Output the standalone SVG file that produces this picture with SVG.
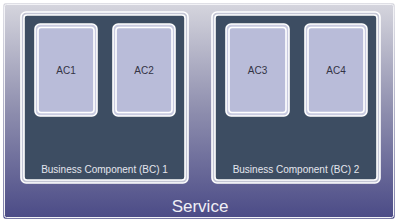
<svg xmlns="http://www.w3.org/2000/svg" width="400" height="224" viewBox="0 0 400 224">
<defs>
<linearGradient id="svcGrad" x1="0" y1="0" x2="0" y2="1">
<stop offset="0" stop-color="#d6d6de"/>
<stop offset="0.5" stop-color="#8e8eae"/>
<stop offset="1" stop-color="#4a4a86"/>
</linearGradient>
</defs>
<style>
.outer{fill:none;stroke:#ffffff;stroke-width:1.6}
.svcin{fill:none;stroke:#f2f2f6;stroke-width:1}
.bcfill{fill:#3d4d62;stroke:#ffffff;stroke-width:1.6}
.acfill{fill:#b9bcd9;stroke:#ffffff;stroke-width:1.6}
.acgap{fill:#c9cbe0;stroke:#ffffff;stroke-width:1.6}
.bcgap{fill:#c3c5d4;stroke:#ffffff;stroke-width:1.6}
.ac{font-family:"Liberation Sans",Arial,sans-serif;font-size:10px;fill:#333344;text-anchor:middle}
.bc{font-family:"Liberation Sans",Arial,sans-serif;font-size:10px;fill:#e4e6ee;text-anchor:middle}
.svc{font-family:"Liberation Sans",Arial,sans-serif;font-size:17px;fill:#f0f0f6;text-anchor:middle}
</style>
<rect width="400" height="224" fill="#ffffff"/>
<g id="service">
<rect x="2.5" y="2.5" width="393" height="217" rx="3" fill="url(#svcGrad)" stroke="#ffffff" stroke-width="1.6"/>
<rect x="4.5" y="4.5" width="389" height="213" rx="2" class="svcin"/>
<text x="200" y="212" class="svc">Service</text>
</g>
<g id="bc1">
<rect x="21" y="12" width="167" height="171" rx="5" class="bcgap"/>
<rect x="24" y="15" width="161" height="165" rx="3" class="bcfill"/>
<text x="104.5" y="173" class="bc">Business Component (BC) 1</text>
</g>
<g id="bc2">
<rect x="212" y="12" width="168" height="171" rx="5" class="bcgap"/>
<rect x="215" y="15" width="162" height="165" rx="3" class="bcfill"/>
<text x="296" y="173" class="bc">Business Component (BC) 2</text>
</g>
<g id="ac1">
<rect x="35" y="24" width="62" height="92" rx="5" class="acgap"/>
<rect x="38" y="27.5" width="56" height="85" rx="3" class="acfill"/>
<text x="66" y="74" class="ac">AC1</text>
</g>
<g id="ac2">
<rect x="113" y="24" width="62" height="92" rx="5" class="acgap"/>
<rect x="116" y="27.5" width="56" height="85" rx="3" class="acfill"/>
<text x="144" y="74" class="ac">AC2</text>
</g>
<g id="ac3">
<rect x="226" y="24" width="63" height="92" rx="5" class="acgap"/>
<rect x="229" y="27.5" width="57" height="85" rx="3" class="acfill"/>
<text x="257.5" y="74" class="ac">AC3</text>
</g>
<g id="ac4">
<rect x="305" y="24" width="62" height="92" rx="5" class="acgap"/>
<rect x="308" y="27.5" width="56" height="85" rx="3" class="acfill"/>
<text x="336" y="74" class="ac">AC4</text>
</g>
<g id="connectors"/>
</svg>
